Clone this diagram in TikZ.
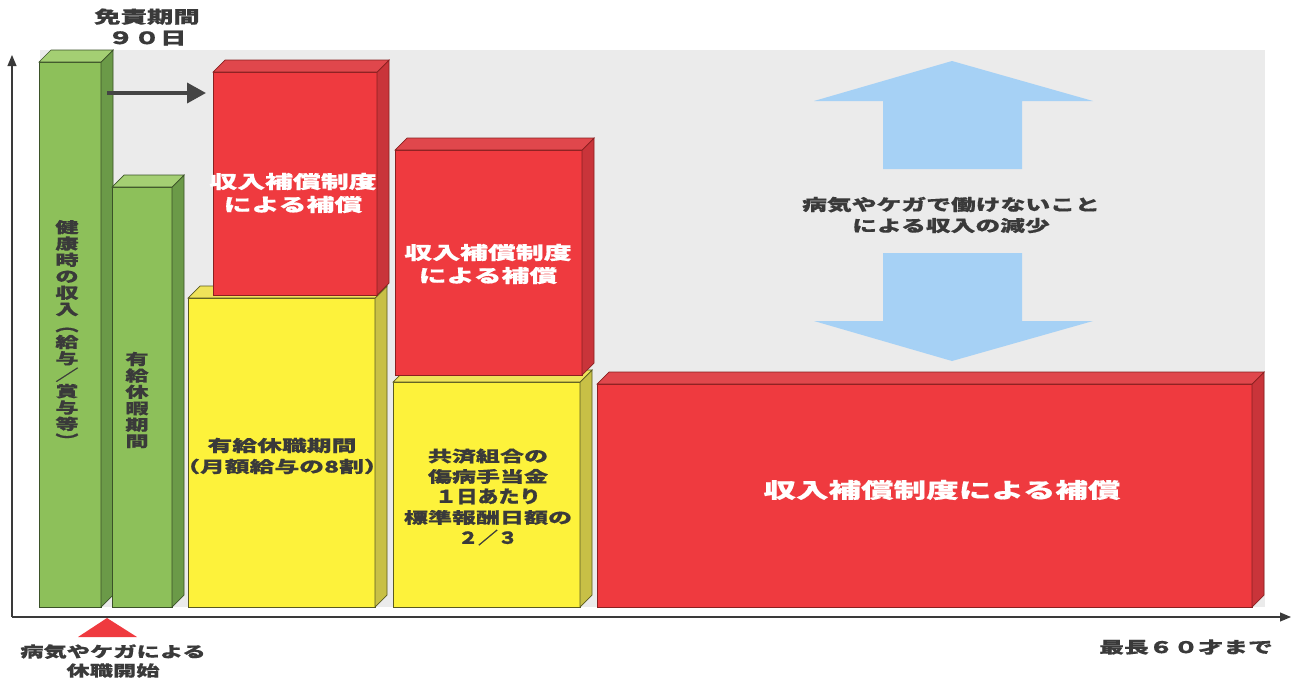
\documentclass[tikz,border=0pt]{standalone}
\usepackage{fontspec}
\usetikzlibrary{arrows.meta,calc}
\newfontfamily\jp[FakeStretch=1.55,FakeBold=0.6]{Noto Sans CJK JP}
\newfontfamily\jpn[FakeStretch=1.2,FakeBold=1.2]{Noto Sans CJK JP}
\definecolor{bg}{HTML}{EBEBEB}
\definecolor{txt}{HTML}{3A3A3A}
\definecolor{gfront}{HTML}{8DC05A}
\definecolor{gside}{HTML}{6B9A48}
\definecolor{gtop}{HTML}{A4CF73}
\definecolor{gline}{HTML}{3B5228}
\definecolor{rfront}{HTML}{EF3A3F}
\definecolor{rside}{HTML}{C9343A}
\definecolor{rtop}{HTML}{E0474C}
\definecolor{rline}{HTML}{8A2020}
\definecolor{yfront}{HTML}{FDF23B}
\definecolor{yside}{HTML}{C8C046}
\definecolor{ytop}{HTML}{EFE35A}
\definecolor{yline}{HTML}{5A5A20}
\definecolor{blu}{HTML}{A6D1F5}
\newcommand{\mycuboid}[6]{%
  \filldraw[fill=#6front,draw=#6line,line width=0.7pt] (#1,#2) rectangle (#3,#4);
  \filldraw[fill=#6side,draw=#6line,line width=0.7pt] (#3,#2) -- ({#3+#5},{#2-#5}) -- ({#3+#5},{#4-#5}) -- (#3,#4) -- cycle;
  \filldraw[fill=#6top,draw=#6line,line width=0.7pt] (#1,#2) -- ({#1+#5},{#2-#5}) -- ({#3+#5},{#2-#5}) -- (#3,#2) -- cycle;
}
\tikzset{
  lbl/.style={text=txt,align=center,inner sep=0pt,font=\jp\bfseries\fontsize{16}{21}\selectfont},
  wlbl/.style={text=white,align=center,inner sep=0pt,font=\jp\bfseries\fontsize{18}{23}\selectfont},
  vlbl/.style={text=txt,align=center,inner sep=0pt,font=\jp\bfseries\fontsize{15}{16.4}\selectfont},
  axis/.style={draw=txt,line width=1.1pt,-{Triangle[length=11pt,width=9pt]}},
  bluearrow/.style={fill=blu,draw=none}
}
\begin{document}
\begin{tikzpicture}[x=1pt,y=-1pt]
\useasboundingbox (0,0) rectangle (1294,681);
% background
\fill[bg] (40,50) rectangle (1265,607);
% axes
\coordinate (orig) at (12,617);
\coordinate (ytip) at (12,55);
\coordinate (xtip) at (1291,617);
\draw[axis] (orig) -- (ytip);
\draw[axis] (orig) -- (xtip);
% bars
\mycuboid{39}{62}{101}{607}{12}{g}
\mycuboid{112}{187}{172}{607}{12}{g}
\mycuboid{188}{298}{375}{607}{12}{y}
\mycuboid{213}{72}{377}{295}{12}{r}
\mycuboid{393}{382}{580}{607}{12}{y}
\mycuboid{395}{150}{582}{375}{12}{r}
\mycuboid{597}{384}{1252}{607}{12}{r}
% blue arrows
\fill[bluearrow] (952,61) -- (1093,101) -- (1022,101) -- (1022,169) -- (883,169) -- (883,101) -- (814,101) -- cycle;
\fill[bluearrow] (952,361) -- (1093,321) -- (1022,321) -- (1022,253) -- (883,253) -- (883,321) -- (814,321) -- cycle;
% arrow green -> red
\coordinate (a1) at (107,93);
\coordinate (a2) at (206,93);
\draw[draw=txt!95,line width=3.6pt,-{Triangle[length=19pt,width=20pt]}] (a1) -- (a2);
% red triangle
\fill[rfront] (107,618) -- (137,637) -- (78,637) -- cycle;
% labels
\node[lbl,font=\jp\bfseries\fontsize{17}{21}\selectfont] (menseki) at (147,27) {免責期間\\９０日};
\node[vlbl] (kenko) at (67,333) {健\\康\\時\\の\\収\\入\\︵\\給\\与\\／\\賞\\与\\等\\︶};
\node[vlbl] (yukyu) at (137,400) {有\\給\\休\\暇\\期\\間};
\node[lbl] (kyushoku) at (282,456) {有給休職期間\\（月額給与の8割）};
\node[wlbl] (hosho1) at (293,193) {収入補償制度\\による補償};
\node[wlbl] (hosho2) at (488,264) {収入補償制度\\による補償};
\node[lbl,font=\jp\bfseries\fontsize{15.5}{20.5}\selectfont] (kyosai) at (488,497) {共済組合の\\傷病手当金\\{\jpn\fontsize{17.5}{20.5}\selectfont １日あたり}\\標準報酬日額の\\{\jpn\fontsize{16.5}{20.5}\selectfont ２／３}};
\node[wlbl,font=\jp\bfseries\fontsize{21}{25}\selectfont] (hosho3) at (942,490) {収入補償制度による補償};
\node[lbl] (gensho) at (951,215) {病気やケガで働けないこと\\による収入の減少};
\node[lbl,font=\jp\bfseries\fontsize{15}{19}\selectfont] (kaishi) at (113,661) {病気やケガによる\\休職開始};
\node[lbl] (saicho) at (1186,647) {最長６０才まで};
\end{tikzpicture}
\end{document}
